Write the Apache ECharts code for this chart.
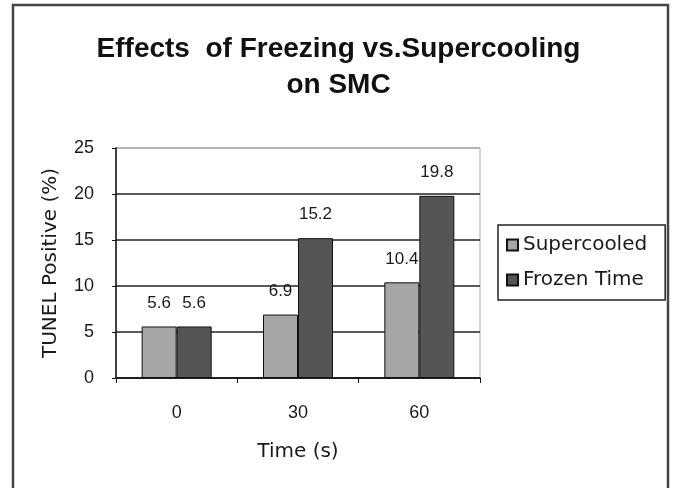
<!DOCTYPE html>
<html>
<head>
<meta charset="utf-8">
<script src="https://cdn.jsdelivr.net/npm/echarts@6/dist/echarts.min.js"></script>
<style>html,body{margin:0;padding:0;background:#fff;}#c{width:677px;height:488px;}</style>
</head>
<body>
<div id="c"></div>
<script>
const categories = ['0', '30', '60'];
const supercooled = [5.6, 6.9, 10.4];
const frozen = [5.6, 15.2, 19.8];
const seriesNames = ['Supercooled', 'Frozen Time'];
const yTicks = { min: 0, max: 25, interval: 5 };

const chart = echarts.init(document.getElementById('c'), null, { renderer: 'canvas' });
const labelStyle = {
  show: true, position: 'top', distance: 15,
  fontFamily: 'Liberation Sans', fontSize: 17, color: '#1a1a1a'
};
chart.setOption({
  backgroundColor: '#fff',
  animation: false,
  title: {
    text: 'Effects  of Freezing vs.Supercooling\non SMC',
    left: 'center', top: 26,
    textStyle: { fontFamily: 'Liberation Sans', fontWeight: 'bold', fontSize: 28, color: '#111', lineHeight: 36 }
  },
  graphic: [{
    type: 'rect', shape: { x: 13, y: 5, width: 655, height: 490 },
    style: { fill: 'none', stroke: '#444', lineWidth: 2.5 }, silent: true
  }],
  legend: {
    orient: 'vertical', left: 498, top: 225,
    padding: [10, 18, 10, 8],
    itemGap: 15, itemWidth: 11, itemHeight: 11,
    borderColor: '#222', borderWidth: 1.5,
    icon: 'rect',
    textStyle: { fontFamily: 'DejaVu Sans', fontSize: 20, color: '#1a1a1a' },
    data: seriesNames
  },
  grid: { left: 116, right: 197, top: 148, bottom: 110, show: true, borderColor: '#aaa', borderWidth: 1 },
  xAxis: {
    type: 'category', data: categories,
    name: 'Time (s)', nameLocation: 'middle', nameGap: 64,
    nameTextStyle: { fontFamily: 'DejaVu Sans', fontSize: 20, color: '#1a1a1a' },
    axisLine: { lineStyle: { color: '#111', width: 1.5 } },
    axisTick: { show: true, length: 5, lineStyle: { color: '#111' } },
    axisLabel: { fontFamily: 'Liberation Sans', fontSize: 18, color: '#1a1a1a', margin: 26 }
  },
  yAxis: {
    type: 'value', min: yTicks.min, max: yTicks.max, interval: yTicks.interval,
    name: 'TUNEL Positive (%)', nameLocation: 'middle', nameGap: 55, nameRotate: 90,
    nameTextStyle: { fontFamily: 'DejaVu Sans', fontSize: 20, color: '#1a1a1a' },
    axisLine: { show: true, lineStyle: { color: '#111', width: 1.5 } },
    axisTick: { show: true, length: 4, lineStyle: { color: '#111' } },
    axisLabel: { fontFamily: 'Liberation Sans', fontSize: 18, color: '#1a1a1a', margin: 22 },
    splitLine: { show: true, lineStyle: { color: ['#222', '#222', '#222', '#222', '#222', '#aaa'], width: 1.5 } }
  },
  series: [
    {
      name: seriesNames[0], type: 'bar', data: supercooled,
      barWidth: 35, barGap: '0%',
      itemStyle: { color: '#a6a6a6', borderColor: '#111', borderWidth: 1 },
      label: labelStyle
    },
    {
      name: seriesNames[1], type: 'bar', data: frozen,
      barWidth: 35, barGap: '0%',
      itemStyle: { color: '#555555', borderColor: '#111', borderWidth: 1 },
      label: labelStyle
    }
  ]
});
</script>
</body>
</html>
